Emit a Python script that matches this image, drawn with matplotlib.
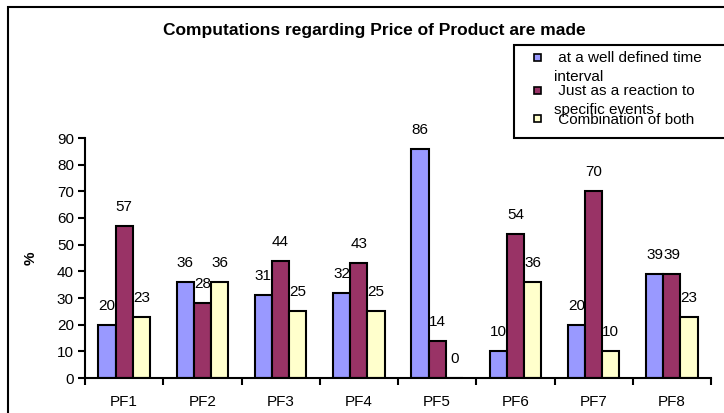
import matplotlib

matplotlib.use("Agg")
import matplotlib.pyplot as plt
import numpy as np
from matplotlib.patches import Rectangle

plt.rcParams["font.family"] = ["Liberation Sans", "DejaVu Sans"]

CATEGORIES = ["PF1", "PF2", "PF3", "PF4", "PF5", "PF6", "PF7", "PF8"]
WELL_DEFINED = [20, 36, 31, 32, 86, 10, 20, 39]
REACTION = [57, 28, 44, 43, 14, 54, 70, 39]
COMBINATION = [23, 36, 25, 25, 0, 36, 10, 23]
SERIES_LABELS = [
    [" at a well defined time", "interval"],
    [" Just as a reaction to", "specific events"],
    [" Combination of both"],
]
COLORS = ["#9999FF", "#993366", "#FFFFCC"]
TITLE = "Computations regarding Price of Product are made"

W, H = 724, 413
FONT = 11


def fx(px):
    return px / W


def fy(py):
    return 1 - py / H


fig = plt.figure(figsize=(W / 100, H / 100), dpi=100)
ax = fig.add_axes([fx(85), fy(378), fx(711) - fx(85), fy(138) - fy(378)])

x = np.arange(len(CATEGORIES))
width = 0.22
series = [WELL_DEFINED, REACTION, COMBINATION]
for i, (vals, color) in enumerate(zip(series, COLORS)):
    pos = x + (i - 1) * width
    ax.bar(pos, vals, width, color=color, edgecolor="black", linewidth=1.5, zorder=2)
    for p, v in zip(pos, vals):
        ax.annotate(str(v), (p, v), xytext=(0, 12), textcoords="offset pixels",
                    ha="center", va="bottom", fontsize=FONT)

ax.set_xlim(-0.5, len(CATEGORIES) - 0.5)
ax.set_ylim(0, 90)
ax.set_yticks(range(0, 91, 10))
ax.set_xticks(x, CATEGORIES)
ax.set_xticks(np.arange(-0.5, len(CATEGORIES)), minor=True)
ax.tick_params(axis="x", which="major", length=0, pad=12.5, labelsize=FONT)
ax.tick_params(axis="x", which="minor", length=5, width=1.5, direction="out")
ax.tick_params(axis="y", length=5, width=1.5, direction="out", pad=3, labelsize=FONT)
for side in ("top", "right"):
    ax.spines[side].set_visible(False)
for side in ("left", "bottom"):
    ax.spines[side].set_linewidth(1.5)
ax.set_ylabel("%", fontsize=FONT, fontweight="bold", labelpad=14)

fig.text(fx(374), fy(31), TITLE, ha="center", va="center", fontsize=12.5, fontweight="bold")

# outer chart frame (clipped at right and bottom)
fig.patches.append(Rectangle((fx(8), fy(430)), fx(740) - fx(8), fy(7) - fy(430),
                             transform=fig.transFigure, fill=False, edgecolor="black",
                             linewidth=1.5, clip_on=False))

# legend box
fig.patches.append(Rectangle((fx(514), fy(138)), fx(740) - fx(514), fy(45) - fy(138),
                             transform=fig.transFigure, facecolor="white", edgecolor="black",
                             linewidth=1.5, clip_on=False, zorder=5))
marker_y = [57, 90, 118]
line_y = [[58, 77], [91, 110], [120]]
for color, my, lines, ys in zip(COLORS, marker_y, SERIES_LABELS, line_y):
    fig.patches.append(Rectangle((fx(534), fy(my + 3.5)), fx(7), 7 / H,
                                 transform=fig.transFigure, facecolor=color,
                                 edgecolor="black", linewidth=1.2, zorder=6))
    for text, ty in zip(lines, ys):
        fig.text(fx(554), fy(ty), text, ha="left", va="center", fontsize=FONT, zorder=7)

fig.savefig("out.png", dpi=100)
